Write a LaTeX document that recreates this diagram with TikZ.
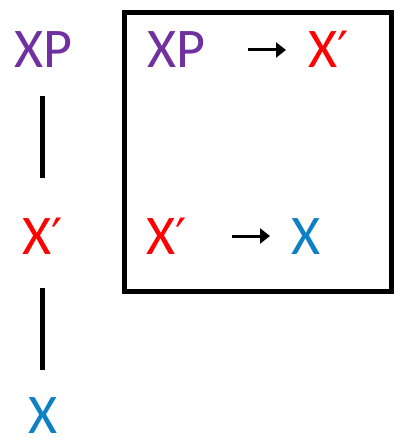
\documentclass[tikz,border=0pt]{standalone}
\usepackage{fontspec}
\setmainfont{Carlito}
\newfontfamily\primefont{DejaVu Sans}
\newcommand{\myprime}{{\primefont\fontsize{50}{60}\selectfont ′}}
\usetikzlibrary{arrows.meta}
\definecolor{cpurple}{HTML}{7030A0}
\definecolor{cred}{HTML}{FF0000}
\definecolor{cblue}{HTML}{0F80C4}
\begin{document}
\begin{tikzpicture}[x=1pt,y=-1pt,
  lbl/.style={inner sep=0pt,anchor=base west,font=\fontsize{56}{62}\selectfont},
  bar/.style={line width=5pt},
  arr/.style={line width=3pt,-{Triangle[length=10pt,width=15pt]}}]
\useasboundingbox (0,0) rectangle (394,438);
% left column
\node[lbl,text=cpurple] (lxp) at (14,68) {XP};
\node[lbl,text=cred] (lxb) at (22,254) {X\myprime};
\node[lbl,text=cblue] (lx) at (28,433) {X};
\coordinate (a1) at (42,96);
\coordinate (a2) at (42,178);
\coordinate (b1) at (42,288);
\coordinate (b2) at (42,370);
\draw[bar] (a1) -- (a2);
\draw[bar] (b1) -- (b2);
% box
\coordinate (bx1) at (124,13);
\coordinate (bx2) at (391,291);
\draw[bar] (bx1) rectangle (bx2);
\node[lbl,text=cpurple] (rxp) at (147,68) {XP};
\node[lbl,text=cred] (rxb1) at (308,68) {X\myprime};
\coordinate (p1) at (248,50);
\coordinate (p2) at (286,50);
\draw[arr] (p1) -- (p2);
\node[lbl,text=cred] (rxb2) at (146,254) {X\myprime};
\node[lbl,text=cblue] (rx) at (291,254) {X};
\coordinate (q1) at (232,236);
\coordinate (q2) at (270,236);
\draw[arr] (q1) -- (q2);
\end{tikzpicture}
\end{document}
